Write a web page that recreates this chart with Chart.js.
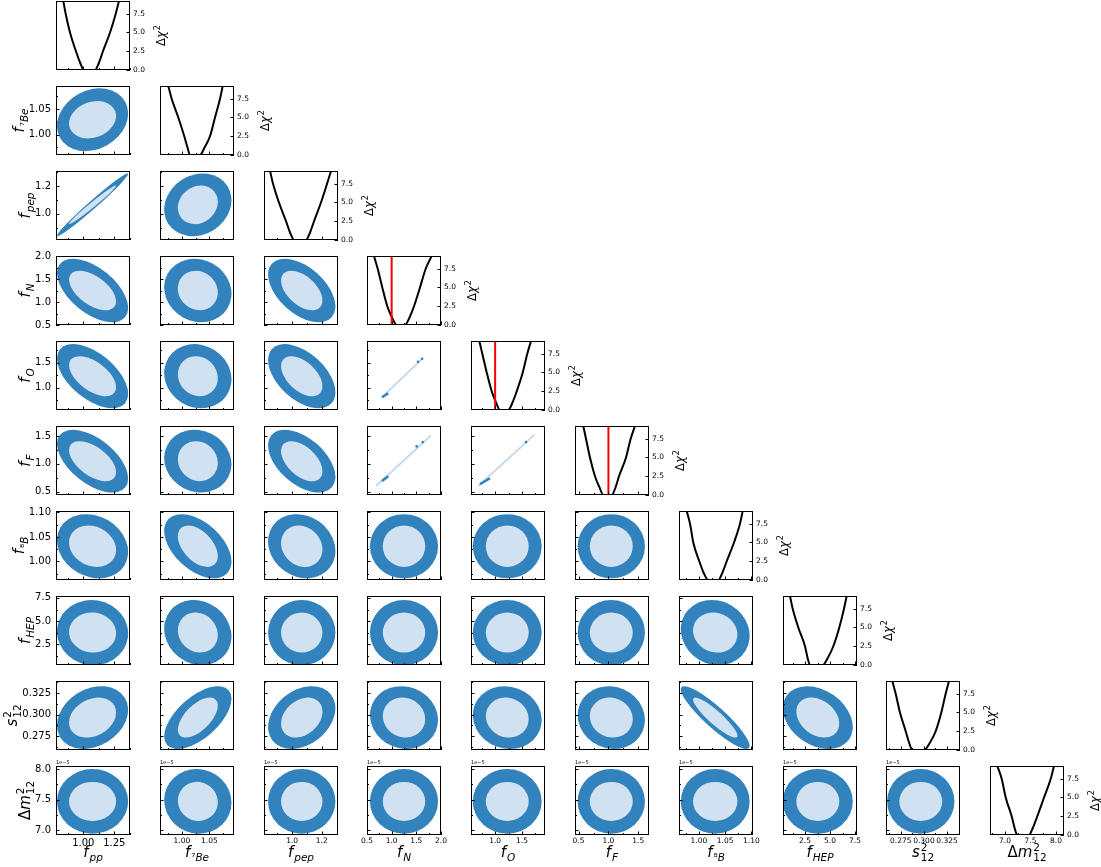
<!DOCTYPE html>
<html>
<head>
<meta charset="utf-8">
<title>Corner plot</title>
<script src="https://cdn.jsdelivr.net/npm/chart.js@4.4.1/dist/chart.umd.min.js"></script>
<style>
  body { margin: 0; background: #fff; }
  #fig { position: relative; width: 1101px; height: 867px; overflow: hidden; }
  #fig canvas { position: absolute; }
</style>
</head>
<body>
<div id="fig"></div>
<script>
// parameters in corner order (dm12 in units of 1e-5)
const params = ['f_pp', 'f_7Be', 'f_pep', 'f_N', 'f_O', 'f_F', 'f_8B', 'f_HEP', 's12^2', 'dm12^2'];

// axis limits
const axisMin = [0.78, 0.96, 0.81, 0.5, 0.55, 0.44, 0.962, 0.3, 0.259, 6.92];
const axisMax = [1.377, 1.095, 1.31, 2.0, 1.93, 1.68, 1.103, 7.7, 0.339, 8.05];
const diagMin = [0.78, 0.96, 0.81, 0.5, 0.55, 0.44, 0.962, 0.3, 0.259, 6.706];
const diagMax = [1.377, 1.095, 1.31, 2.0, 1.93, 1.68, 1.103, 7.7, 0.339, 8.157];

// tick marks and labelled ticks
const tickStep = [0.125, 0.025, 0.1, 0.25, 0.25, 0.25, 0.025, 1.25, 0.0125, 0.25];
const tickLabels = [
  [1.00, 1.25], [1.00, 1.05], [1.0, 1.2], [0.5, 1.0, 1.5, 2.0], [1.0, 1.5],
  [0.5, 1.0, 1.5], [1.00, 1.05, 1.10], [2.5, 5.0, 7.5], [0.275, 0.300, 0.325], [7.0, 7.5, 8.0]
];
const labelDigits = [2, 2, 1, 1, 1, 1, 2, 1, 3, 1];

// 2D contours: centre and half extents of the inner / outer regions
const bestFit = [1.075, 1.029, 1.065, 1.25, 1.226, 1.048, 1.031, 3.78, 0.2966, 7.47];
const outerHalf = [0.287, 0.0614, 0.2275, 0.69, 0.642, 0.564, 0.0656, 3.5, 0.0364, 0.53];
const innerHalf = [0.19, 0.0365, 0.14, 0.43, 0.40, 0.36, 0.0423, 2.15, 0.0232, 0.32];

// correlation of row parameter vs column parameter (null = degenerate band)
const corr = [
  [],
  [0.2],
  [0.985, 0.15],
  [-0.55, -0.1, -0.5],
  [-0.55, -0.1, -0.5, null],
  [-0.55, -0.1, -0.5, null, null],
  [-0.18, -0.48, -0.15, 0.0, 0.0, 0.0],
  [-0.03, -0.12, 0.0, 0.0, 0.0, 0.0, -0.1],
  [0.25, 0.6, 0.3, -0.08, -0.08, -0.08, -0.9, -0.3],
  [0.0, -0.04, 0.0, 0.0, 0.0, 0.0, 0.0, 0.0, 0.0]
];

// degenerate pairs (f_O/f_N, f_F/f_N, f_F/f_O)
const degenPairs = [[4, 3], [5, 3], [5, 4]];
const degenLineX = [[0.804, 1.635], [0.682, 1.797], [0.686, 1.731]];
const degenLineY = [[0.806, 1.589], [0.605, 1.508], [0.605, 1.521]];
const degenDarkX = [[0.804, 0.932], [0.804, 0.932], [0.718, 0.904]];
const degenDarkY = [[0.806, 0.885], [0.693, 0.777], [0.635, 0.741]];
const degenDotX = [[1.534, 1.615], [1.507, 1.629], [1.576]];
const degenDotY = [[1.516, 1.575], [1.313, 1.391], [1.391]];

// 1D profiles: x position where the curve crosses each delta chi^2 level
const chi2Levels = [9.2, 7.5, 5.0, 2.5, 1.0, 0, 0, 1.0, 2.5, 5.0, 7.5, 9.2];
const profileX = [
  [0.839, 0.858, 0.893, 0.941, 0.974, 1.006, 1.095, 1.127, 1.159, 1.216, 1.262, 1.288],
  [0.9751, 0.9813, 0.9934, 1.0043, 1.0102, 1.0147, 1.0330, 1.0412, 1.0512, 1.0603, 1.0695, 1.0744],
  [0.851, 0.871, 0.911, 0.959, 0.986, 1.013, 1.094, 1.121, 1.148, 1.195, 1.236, 1.263],
  [0.642, 0.717, 0.810, 0.911, 1.007, 1.102, 1.270, 1.362, 1.453, 1.574, 1.690, 1.811],
  [0.705, 0.761, 0.843, 0.936, 1.016, 1.091, 1.246, 1.324, 1.403, 1.515, 1.600, 1.669],
  [0.579, 0.624, 0.691, 0.775, 0.851, 0.914, 1.055, 1.119, 1.177, 1.295, 1.373, 1.445],
  [0.9767, 0.9830, 0.9892, 1.0007, 1.0087, 1.0178, 1.0369, 1.0449, 1.0529, 1.0668, 1.0782, 1.0834],
  [1.00, 1.27, 1.83, 2.50, 2.75, 3.00, 4.27, 4.80, 5.33, 5.93, 6.40, 6.67],
  [0.2658, 0.2695, 0.2741, 0.2803, 0.2839, 0.2874, 0.3001, 0.3066, 0.3127, 0.3188, 0.3235, 0.3271],
  [6.849, 6.935, 7.014, 7.131, 7.186, 7.241, 7.471, 7.549, 7.633, 7.765, 7.897, 7.961]
];
const redLineAt = [null, null, null, 1.0, 1.0, 1.0, null, null, null, null];
const chi2Max = 9.2;
const chi2Step = 2.5;
const chi2Labels = [0.0, 2.5, 5.0, 7.5];

// axis titles: [text, italic] pieces
const axisTitles = [
  { base: [['f', 1]], sub: [['pp', 1]] },
  { base: [['f', 1]], sub: [['\u2077', 0], ['Be', 1]] },
  { base: [['f', 1]], sub: [['pep', 1]] },
  { base: [['f', 1]], sub: [['N', 1]] },
  { base: [['f', 1]], sub: [['O', 1]] },
  { base: [['f', 1]], sub: [['F', 1]] },
  { base: [['f', 1]], sub: [['\u2078', 0], ['B', 1]] },
  { base: [['f', 1]], sub: [['HEP', 1]] },
  { base: [['s', 1]], sup: [['2', 0]], sub: [['12', 0]] },
  { base: [['\u0394', 0], ['m', 1]], sup: [['2', 0]], sub: [['12', 0]] }
];
const chi2Title = { base: [['\u0394', 0], ['\u03c7', 1]], sup: [['2', 0]] };

const PW = 74, PH = 69, PL = 56, PR = 56, PT = 12, PB = 44;
const darkBlue = '#3182bd', lightBlue = '#d0e1f2';
const FONT = '"DejaVu Sans", sans-serif';
const colLeft = c => Math.round(56 + 103.8 * c);
const rowTop = r => 1 + 85 * r;

function makeTicks(lo, hi, step) {
  const out = [];
  for (let k = Math.ceil(lo / step - 1e-6); k * step <= hi + step * 1e-6; k++) {
    out.push({ value: +(k * step).toFixed(6) });
  }
  return out;
}
function isLabelled(list, v) {
  return list.some(t => Math.abs(t - v) < 1e-6);
}

function scaleOpts(pos, lo, hi, step, labels, digits, show, fontSize, pad, size) {
  return {
    type: 'linear', position: pos, min: lo, max: hi,
    grid: { display: false, drawTicks: false },
    border: { display: false },
    ticks: {
      display: show, autoSkip: false, maxRotation: 0, minRotation: 0,
      padding: pad, color: '#000',
      font: { family: FONT, size: fontSize },
      callback: v => isLabelled(labels, v) ? v.toFixed(digits) : ''
    },
    afterBuildTicks: s => { s.ticks = makeTicks(lo, hi, step); },
    afterFit: s => { if (pos === 'bottom') s.height = size; else s.width = size; }
  };
}

// draw label pieces with sub/superscripts, baseline at y=0, starting at x=0
function mathText(ctx, spec, size, draw) {
  let x = 0;
  for (const [t, it] of spec.base) {
    ctx.font = (it ? 'italic ' : '') + size + 'px ' + FONT;
    if (draw) ctx.fillText(t, x, 0);
    x += ctx.measureText(t).width;
  }
  const small = size * 0.7;
  let w = 0;
  const piece = (list, dy) => {
    let xx = x + 1;
    for (const [t, it] of list) {
      ctx.font = (it ? 'italic ' : '') + small + 'px ' + FONT;
      if (draw) ctx.fillText(t, xx, dy);
      xx += ctx.measureText(t).width;
    }
    w = Math.max(w, xx - x);
  };
  if (spec.sup) piece(spec.sup, -size * 0.42);
  if (spec.sub) piece(spec.sub, size * 0.26);
  return x + w;
}
function drawTitle(ctx, spec, size, x, y, rotate) {
  ctx.save();
  ctx.fillStyle = '#000';
  ctx.textBaseline = 'alphabetic';
  ctx.textAlign = 'left';
  ctx.translate(x, y);
  if (rotate) ctx.rotate(-Math.PI / 2);
  const w = mathText(ctx, spec, size, false);
  ctx.translate(-w / 2, 0);
  mathText(ctx, spec, size, true);
  ctx.restore();
}

function fillContour(chart, r, c, half, rho, colour) {
  const xs = chart.scales.x, ys = chart.scales.y, ctx = chart.ctx;
  const cx = xs.getPixelForValue(bestFit[c]), cy = ys.getPixelForValue(bestFit[r]);
  const a = Math.abs(xs.getPixelForValue(bestFit[c] + half[c]) - cx);
  const b = Math.abs(ys.getPixelForValue(bestFit[r] + half[r]) - cy);
  const k = -rho * a * b; // canvas y grows downwards
  const m = (a * a + b * b) / 2;
  const d = Math.sqrt(Math.pow((a * a - b * b) / 2, 2) + k * k);
  const ang = 0.5 * Math.atan2(2 * k, a * a - b * b);
  ctx.beginPath();
  ctx.ellipse(cx, cy, Math.sqrt(m + d), Math.sqrt(Math.max(m - d, 0.3)), ang, 0, 2 * Math.PI);
  ctx.fillStyle = colour;
  ctx.fill();
}

const cornerPlugin = {
  id: 'corner',
  beforeDatasetsDraw(chart, args, o) {
    if (o.diag) return;
    const rho = corr[o.row][o.col];
    if (rho === null) return;
    const ctx = chart.ctx, a = chart.chartArea;
    ctx.save();
    ctx.beginPath();
    ctx.rect(a.left, a.top, a.right - a.left, a.bottom - a.top);
    ctx.clip();
    fillContour(chart, o.row, o.col, outerHalf, rho, darkBlue);
    fillContour(chart, o.row, o.col, innerHalf, rho, lightBlue);
    ctx.restore();
  },
  afterDraw(chart, args, o) {
    const ctx = chart.ctx, a = chart.chartArea;
    const xs = chart.scales.x, ys = chart.scales.y;
    ctx.save();
    ctx.strokeStyle = '#000';
    ctx.lineWidth = 1;
    // inward ticks
    const xLab = tickLabels[o.col];
    ctx.beginPath();
    for (const t of xs.ticks) {
      const px = Math.round(xs.getPixelForValue(t.value)) + 0.5;
      const len = isLabelled(xLab, t.value) ? 3.5 : 2;
      ctx.moveTo(px, a.bottom);
      ctx.lineTo(px, a.bottom - len);
    }
    const yLab = o.diag ? chi2Labels : tickLabels[o.row];
    const edge = o.diag ? a.right : a.left, dir = o.diag ? -1 : 1;
    for (const t of ys.ticks) {
      const py = Math.round(ys.getPixelForValue(t.value)) + 0.5;
      const len = isLabelled(yLab, t.value) ? 3.5 : 2;
      ctx.moveTo(edge, py);
      ctx.lineTo(edge + dir * len, py);
    }
    ctx.stroke();
    ctx.strokeRect(Math.round(a.left) + 0.5, Math.round(a.top) + 0.5,
      Math.round(a.right - a.left) - 1, Math.round(a.bottom - a.top) - 1);
    ctx.restore();

    const midY = (a.top + a.bottom) / 2;
    if (o.row === 9) drawTitle(ctx, axisTitles[o.col], 15, (a.left + a.right) / 2, a.bottom + 22, false);
    if (!o.diag && o.col === 0) {
      ctx.font = '10px ' + FONT;
      const w = Math.max(...tickLabels[o.row].map(v => ctx.measureText(v.toFixed(labelDigits[o.row])).width));
      drawTitle(ctx, axisTitles[o.row], 15, a.left - 5 - w - 5, midY, true);
    }
    if (o.diag) drawTitle(ctx, chi2Title, 11.5, a.right + 35, midY, true);
    if (o.row === 9 && !o.diag) {
      ctx.save();
      ctx.font = '5px ' + FONT;
      ctx.fillStyle = '#000';
      ctx.textBaseline = 'alphabetic';
      ctx.fillText('1e\u22125', a.left, a.top - 2);
      ctx.restore();
    }
  }
};
Chart.register(cornerPlugin);

const baseOptions = {
  responsive: false,
  animation: false,
  events: [],
  plugins: { legend: { display: false }, tooltip: { enabled: false } }
};

function pairConfig(r, c) {
  const datasets = [];
  const d = degenPairs.findIndex(p => p[0] === r && p[1] === c);
  if (d >= 0) {
    datasets.push({
      data: degenDotX[d].map((x, k) => ({ x, y: degenDotY[d][k] })),
      backgroundColor: darkBlue, borderColor: darkBlue, pointRadius: 1.3, borderWidth: 0
    });
    datasets.push({
      data: degenDarkX[d].map((x, k) => ({ x, y: degenDarkY[d][k] })),
      borderColor: darkBlue, borderWidth: 2.5, showLine: true, pointRadius: 0
    });
    datasets.push({
      data: degenLineX[d].map((x, k) => ({ x, y: degenLineY[d][k] })),
      borderColor: '#bcd5ee', borderWidth: 1.6, showLine: true, pointRadius: 0
    });
  }
  return {
    type: 'scatter',
    data: { datasets },
    options: {
      ...baseOptions,
      layout: { padding: { top: PT, right: PR, left: 0, bottom: 0 } },
      scales: {
        x: scaleOpts('bottom', axisMin[c], axisMax[c], tickStep[c], tickLabels[c], labelDigits[c],
          r === 9, c === 0 ? 10 : 7.5, 2, PB),
        y: scaleOpts('left', axisMin[r], axisMax[r], tickStep[r], tickLabels[r], labelDigits[r],
          c === 0, 10, 5, PL)
      },
      plugins: { ...baseOptions.plugins, corner: { row: r, col: c, diag: false } }
    }
  };
}

function diagConfig(i) {
  const datasets = [];
  if (redLineAt[i] !== null) {
    datasets.push({
      data: [{ x: redLineAt[i], y: 0 }, { x: redLineAt[i], y: chi2Max }],
      borderColor: '#ff0000', borderWidth: 2, showLine: true, pointRadius: 0
    });
  }
  datasets.push({
    data: profileX[i].map((x, k) => ({ x, y: chi2Levels[k] })),
    borderColor: '#000', borderWidth: 2, showLine: true, pointRadius: 0,
    cubicInterpolationMode: 'monotone'
  });
  return {
    type: 'scatter',
    data: { datasets },
    options: {
      ...baseOptions,
      layout: { padding: { top: PT, left: PL, right: 0, bottom: 0 } },
      scales: {
        x: scaleOpts('bottom', diagMin[i], diagMax[i], tickStep[i], tickLabels[i], labelDigits[i],
          i === 9, 7.5, 2, PB),
        y: scaleOpts('right', 0, chi2Max, chi2Step, chi2Labels, 1, true, 7.5, 3, PR)
      },
      plugins: { ...baseOptions.plugins, corner: { row: i, col: i, diag: true } }
    }
  };
}

const fig = document.getElementById('fig');
for (let r = 0; r < params.length; r++) {
  for (let c = 0; c <= r; c++) {
    const cv = document.createElement('canvas');
    cv.width = PL + PW + PR;
    cv.height = PT + PH + PB;
    cv.style.width = cv.width + 'px';
    cv.style.height = cv.height + 'px';
    cv.style.left = (colLeft(c) - PL) + 'px';
    cv.style.top = (rowTop(r) - PT) + 'px';
    fig.appendChild(cv);
    new Chart(cv, r === c ? diagConfig(r) : pairConfig(r, c));
  }
}
</script>
</body>
</html>
